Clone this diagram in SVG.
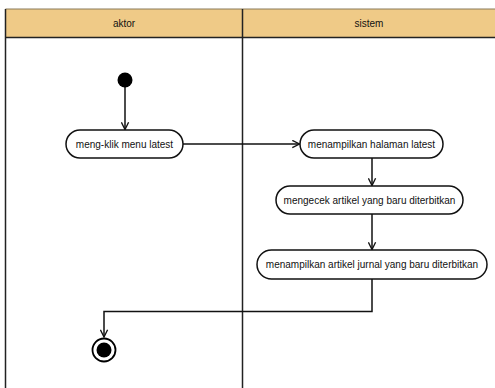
<svg xmlns="http://www.w3.org/2000/svg" width="495" height="388" viewBox="0 0 495 388">
<defs>
<style>
.hdr{fill:#EFCA87;stroke:none}
.ln{stroke:#111;stroke-width:1.5;fill:none}
.act{fill:#fff;stroke:#111;stroke-width:1.5}
.t{font-family:"Liberation Sans",Arial,sans-serif;font-size:10px;fill:#111;text-anchor:middle}
</style>
<marker id="arr" viewBox="0 0 10 10" refX="9" refY="5" markerWidth="9" markerHeight="9" markerUnits="userSpaceOnUse" orient="auto">
<path d="M1,1 L9,5 L1,9" fill="none" stroke="#111" stroke-width="1.5"/>
</marker>
</defs>
<rect width="495" height="388" fill="#fff"/>
<g id="swimlanes">
<rect class="hdr" x="5.5" y="9" width="490" height="28.5"/>
<line x1="5.5" y1="9" x2="495" y2="9" stroke="#8a7a5a" stroke-width="1"/>
<line x1="5.5" y1="37.5" x2="495" y2="37.5" stroke="#222" stroke-width="1.5"/>
<line x1="5.5" y1="9" x2="5.5" y2="388" stroke="#222" stroke-width="1.5"/>
<line x1="242.5" y1="9" x2="242.5" y2="388" stroke="#222" stroke-width="1.5"/>
<text class="t" x="124" y="26.5">aktor</text>
<text class="t" x="369" y="26.5">sistem</text>
</g>
<g id="connectors">
<line class="ln" x1="125" y1="87" x2="125" y2="129.5" marker-end="url(#arr)"/>
<line class="ln" x1="183" y1="144" x2="299.5" y2="144" marker-end="url(#arr)"/>
<line class="ln" x1="372" y1="158" x2="372" y2="185.5" marker-end="url(#arr)"/>
<line class="ln" x1="372" y1="214" x2="372" y2="249.5" marker-end="url(#arr)"/>
<polyline class="ln" points="372,279 372,311.5 104,311.5 104,337" marker-end="url(#arr)"/>
</g>
<g id="start">
<circle cx="125" cy="80" r="7.5" fill="#000"/>
</g>
<g id="a1">
<rect class="act" x="66" y="130" width="117" height="28" rx="14"/>
<text class="t" x="124.5" y="147.5">meng-klik menu latest</text>
</g>
<g id="a2">
<rect class="act" x="300" y="130" width="143" height="28" rx="14"/>
<text class="t" x="371.5" y="147.5">menampilkan halaman latest</text>
</g>
<g id="a3">
<rect class="act" x="276" y="186" width="187" height="28" rx="14"/>
<text class="t" x="369.5" y="203.5">mengecek artikel yang baru diterbitkan</text>
</g>
<g id="a4">
<rect class="act" x="257" y="250" width="230" height="29" rx="14.5"/>
<text class="t" x="372" y="268">menampilkan artikel jurnal yang baru diterbitkan</text>
</g>
<g id="end">
<circle cx="104" cy="350" r="11.5" fill="#fff" stroke="#000" stroke-width="1.8"/>
<circle cx="104" cy="350" r="7.5" fill="#000"/>
</g>
</svg>
